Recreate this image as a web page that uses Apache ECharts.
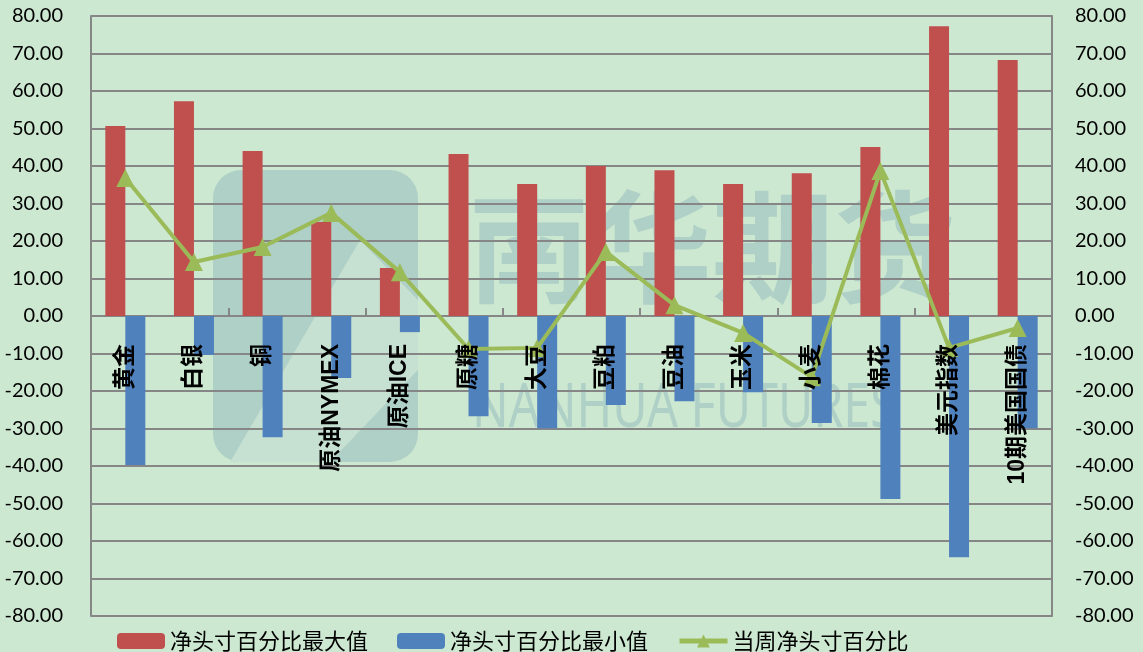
<!DOCTYPE html>
<html><head><meta charset="utf-8">
<script src="https://cdn.jsdelivr.net/npm/echarts@6/dist/echarts.min.js"></script>
<style>html,body{margin:0;padding:0;background:#cde8d1;}#c{width:1143px;height:652px;}</style>
</head><body><div id="c"></div>
<script>
const categories = ['黄金','白银','铜','原油NYMEX','原油ICE','原糖','大豆','豆粕','豆油','玉米','小麦','棉花','美元指数','10期美国国债'];
const maxValues = [50.7, 57.3, 44.0, 25.1, 12.8, 43.2, 35.2, 40.0, 38.9, 35.2, 38.1, 45.1, 77.3, 68.3];
const minValues = [-39.7, -10.4, -32.3, -16.5, -4.3, -26.7, -29.9, -23.7, -22.7, -20.3, -28.5, -48.8, -64.3, -29.9];
const currentValues = [36.8, 14.4, 18.4, 27.5, 11.7, -8.8, -8.5, 17.1, 2.9, -4.5, -16.3, 38.7, -8.5, -3.2];
const seriesNames = ['净头寸百分比最大值','净头寸百分比最小值','当周净头寸百分比'];

const chart = echarts.init(document.getElementById('c'), null, {renderer:'canvas'});
const wm = '#afd0c6';
const yAxisBase = {
  type:'value', min:-80, max:80, interval:10,
  axisLine:{show:true, lineStyle:{color:'#868686', width:2}},
  axisTick:{show:false},
  splitLine:{show:true, lineStyle:{color:'#868686', width:2}},
  axisLabel:{color:'#000', fontSize:20, fontFamily:'Lato', formatter:v=>v.toFixed(2)}
};
chart.setOption({
  backgroundColor:'#cde8d1',
  animation:false,
  graphic:[
    {type:'rect', z:-10, shape:{x:213, y:170, width:205, height:292, r:28}, style:{fill:wm}},
    {type:'polygon', z:-9, shape:{points:[[230,462],[330,462],[418,370],[418,300],[360,240]]}, style:{fill:'#c6e0d2'}},
    {type:'text', z:-10, left:468, top:186, style:{text:'南华期货', fill:wm, font:'bold 122px "Noto Sans CJK SC"'}},
    {type:'text', z:-10, left:472, top:378, scaleX:0.78, style:{text:'NANHUA FUTURES', fill:wm, font:'62px "Noto Sans"'}}
  ],
  grid:{left:91, right:91, top:16, bottom:36, containLabel:false, outerBoundsMode:'none'},
  legend:{
    left:112, top:625, itemGap:29, itemWidth:48, itemHeight:16,
    textStyle:{fontSize:22, color:'#000', fontFamily:'Noto Sans CJK SC'},
    data:[
      {name:seriesNames[0]},
      {name:seriesNames[1]},
      {name:seriesNames[2], lineStyle:{width:5, color:'#9bbb59'}, itemStyle:{color:'#9bbb59'}}
    ]
  },
  xAxis:{
    type:'category', data:categories,
    axisLine:{show:true, onZero:true, lineStyle:{color:'#868686', width:2}},
    axisTick:{show:true, inside:true, length:8, lineStyle:{color:'#868686', width:2}},
    axisLabel:{show:false},
    splitLine:{show:false}
  },
  yAxis:[
    Object.assign({}, yAxisBase, {position:'left', axisLabel:Object.assign({}, yAxisBase.axisLabel, {margin:28})}),
    Object.assign({}, yAxisBase, {position:'right', splitLine:{show:false}, axisLabel:Object.assign({}, yAxisBase.axisLabel, {margin:23})})
  ],
  series:[
    {name:seriesNames[0], type:'bar', data:maxValues, barWidth:20, barGap:'0%', itemStyle:{color:'#c0504d'}},
    {name:seriesNames[1], type:'bar', data:minValues, barWidth:20, barGap:'0%', itemStyle:{color:'#4f81bd'}},
    {name:seriesNames[2], type:'line', data:currentValues, symbol:'triangle', symbolSize:18, z:5,
     lineStyle:{color:'#9bbb59', width:4}, itemStyle:{color:'#9bbb59'}},
    {name:'categoryLabels', type:'scatter', z:6, symbolSize:2, itemStyle:{color:'rgba(0,0,0,0)'}, silent:true,
     data:categories.map(c=>({name:c, value:[c,0]})),
     label:{show:true, position:'bottom', distance:23, rotate:90, align:'right', verticalAlign:'middle',
       formatter:p=>p.name, color:'#000', opacity:1, fontSize:23, fontWeight:'bold',
       fontFamily:'Liberation Sans, Noto Sans CJK SC', offset:[-4,0]}}
  ]
});
</script></body></html>
